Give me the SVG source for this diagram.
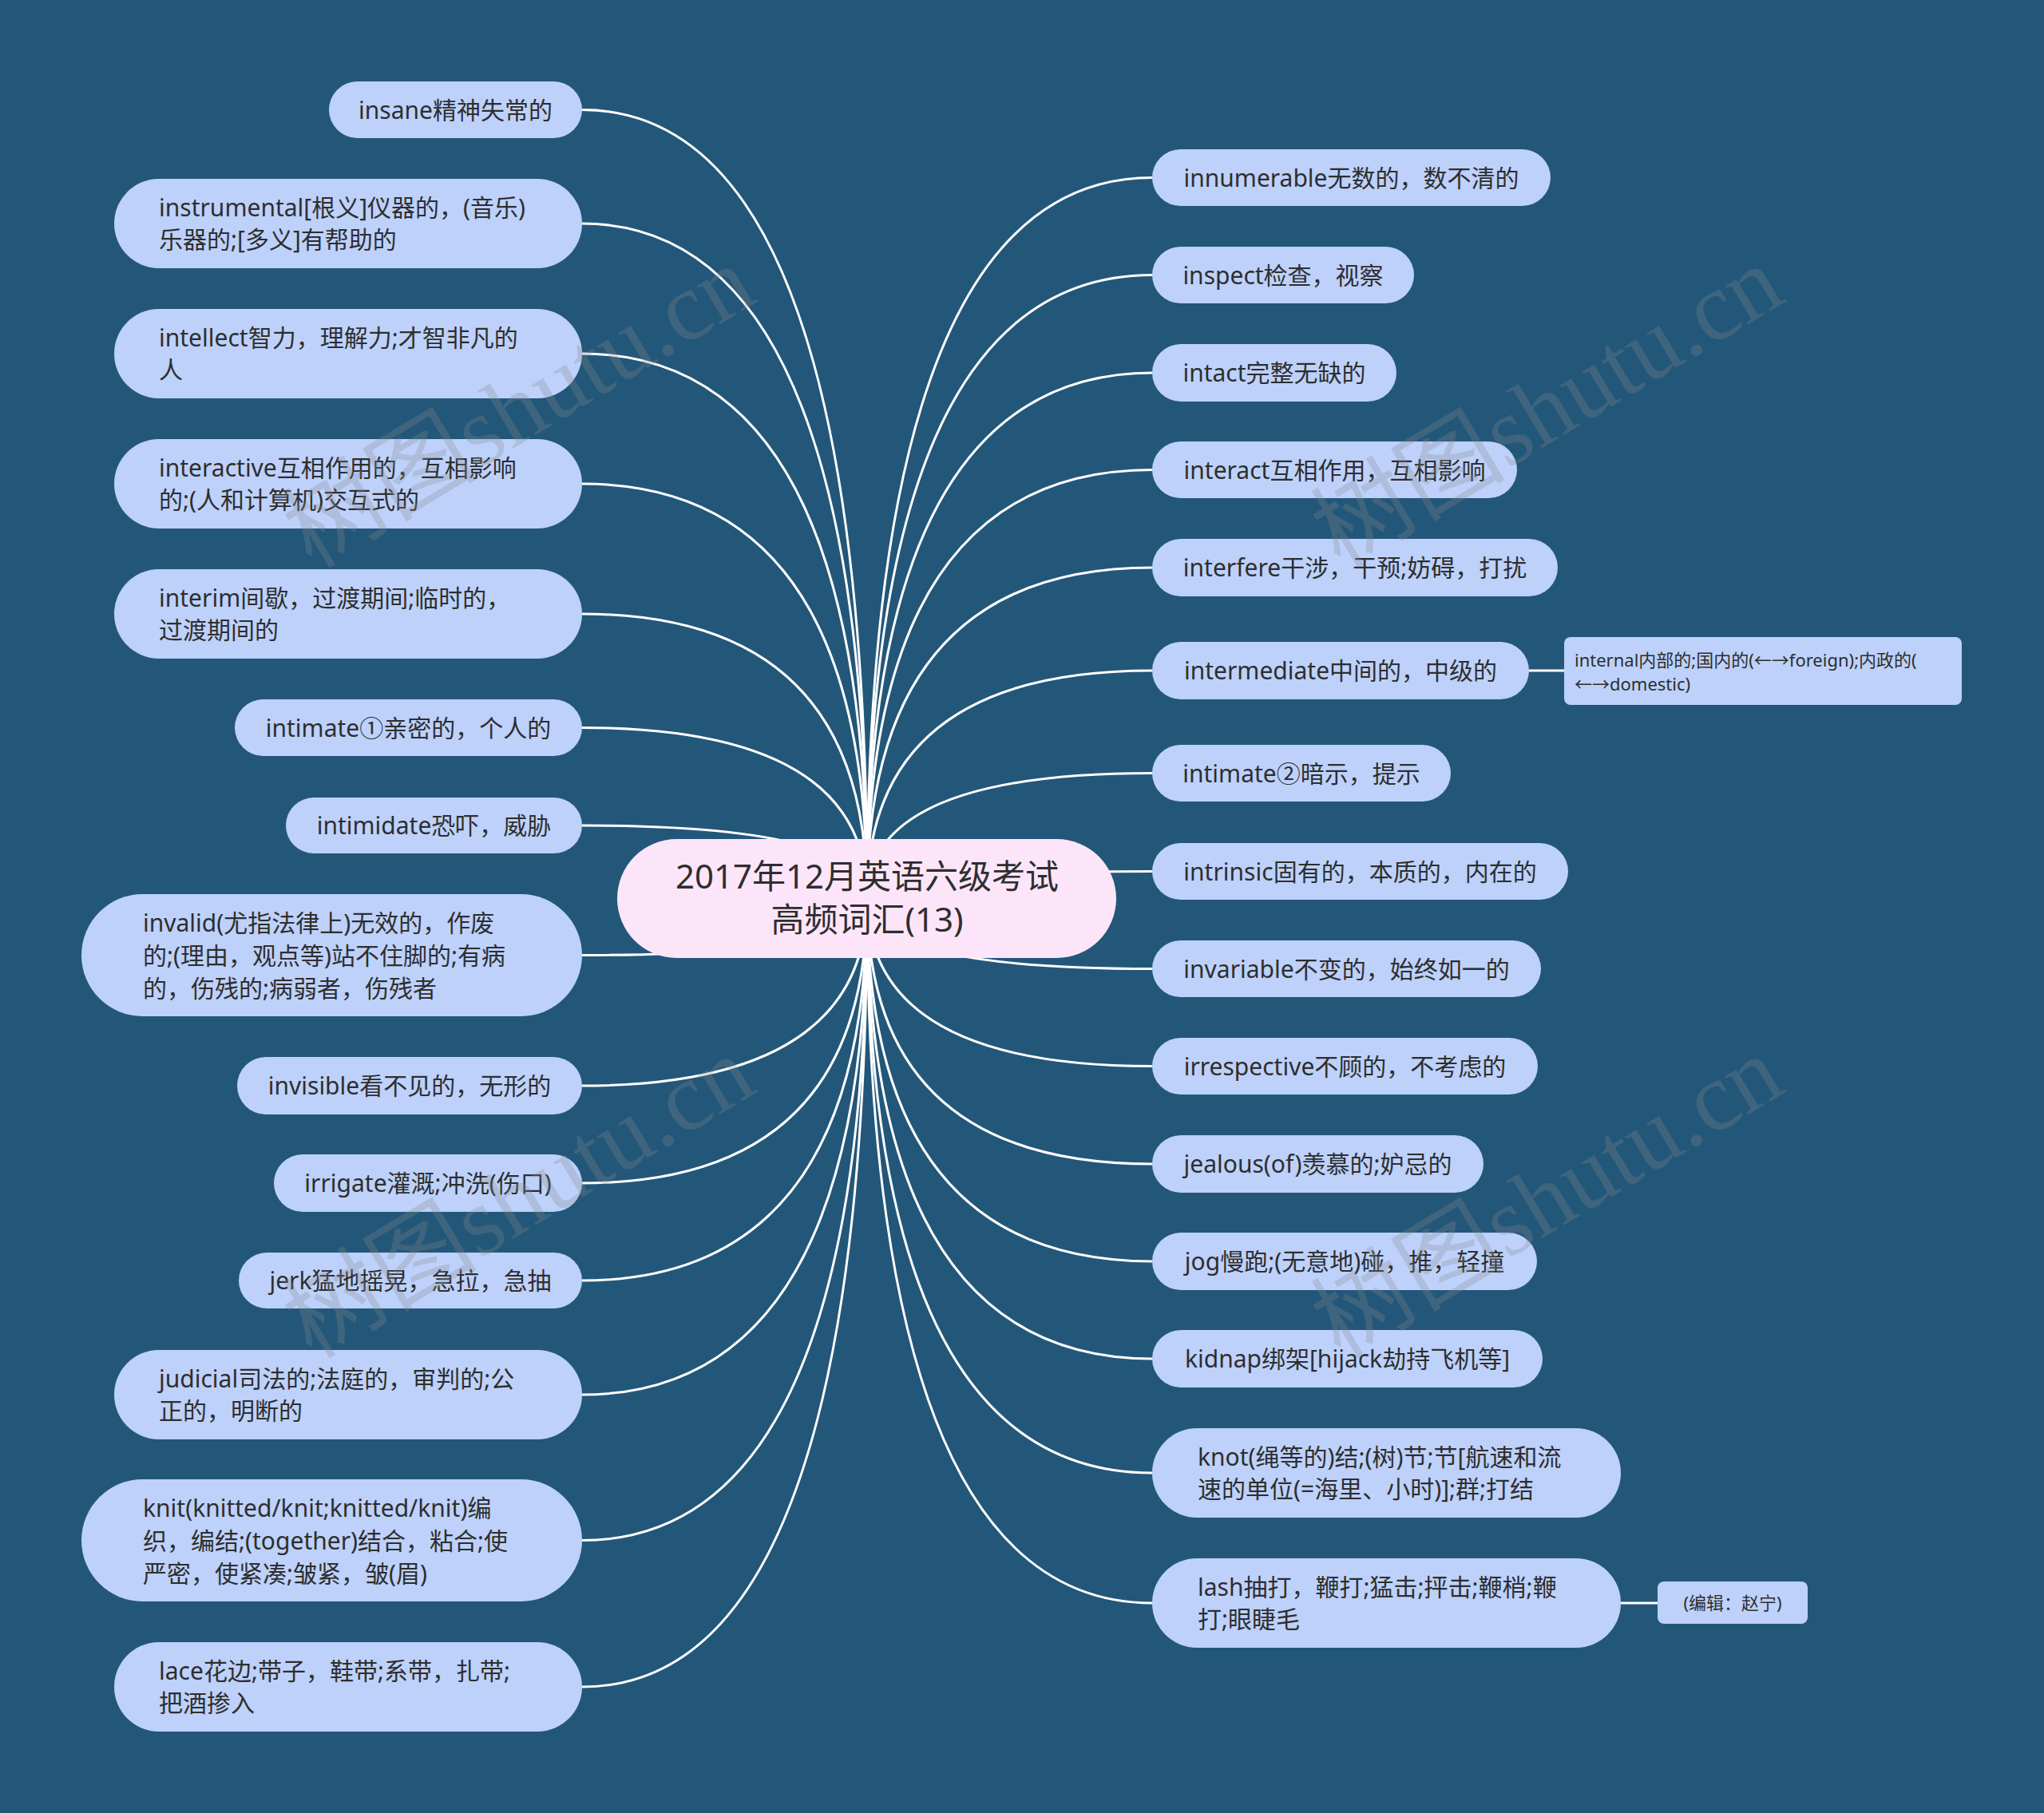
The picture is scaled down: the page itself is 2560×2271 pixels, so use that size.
<svg xmlns="http://www.w3.org/2000/svg" width="2560" height="2271" viewBox="0 0 2560 2271">
<style>
.bg{fill:#235779}
.n rect{fill:#bdd1fb}
.sub rect{fill:#bdd1fb}
.root rect{fill:#fde5f9}
.t{font-family:"Noto Sans","Noto Sans CJK SC",sans-serif;font-size:30px;fill:#2e2e2e}
.m{text-anchor:middle}
.s{font-size:22px}
.rt{font-size:42px}
.edges path,.edges line{fill:none;stroke:#ffffff;stroke-width:3}
.wm{font-family:"Liberation Serif","Noto Sans CJK SC",serif;font-size:122px;fill:#8a8a8a;fill-opacity:0.28;text-anchor:middle}
</style>
<rect class="bg" x="0" y="0" width="2560" height="2271"/>
<g class="edges">
<path d="M1086 1125 Q1086 137.5 729 137.5"/>
<path d="M1086 1125 Q1086 280 729 280"/>
<path d="M1086 1125 Q1086 443 729 443"/>
<path d="M1086 1125 Q1086 606 729 606"/>
<path d="M1086 1125 Q1086 769 729 769"/>
<path d="M1086 1125 Q1086 911.5 729 911.5"/>
<path d="M1086 1125 Q1086 1034 729 1034"/>
<path d="M1086 1125 Q1086 1196.5 729 1196.5"/>
<path d="M1086 1125 Q1086 1360 729 1360"/>
<path d="M1086 1125 Q1086 1482 729 1482"/>
<path d="M1086 1125 Q1086 1604 729 1604"/>
<path d="M1086 1125 Q1086 1747 729 1747"/>
<path d="M1086 1125 Q1086 1929.5 729 1929.5"/>
<path d="M1086 1125 Q1086 2113 729 2113"/>
<path d="M1086 1125 Q1086 222.5 1443 222.5"/>
<path d="M1086 1125 Q1086 344.5 1443 344.5"/>
<path d="M1086 1125 Q1086 467 1443 467"/>
<path d="M1086 1125 Q1086 588.5 1443 588.5"/>
<path d="M1086 1125 Q1086 711 1443 711"/>
<path d="M1086 1125 Q1086 840 1443 840"/>
<path d="M1086 1125 Q1086 968.5 1443 968.5"/>
<path d="M1086 1125 Q1086 1091.5 1443 1091.5"/>
<path d="M1086 1125 Q1086 1213.5 1443 1213.5"/>
<path d="M1086 1125 Q1086 1335.5 1443 1335.5"/>
<path d="M1086 1125 Q1086 1458 1443 1458"/>
<path d="M1086 1125 Q1086 1580 1443 1580"/>
<path d="M1086 1125 Q1086 1702 1443 1702"/>
<path d="M1086 1125 Q1086 1845 1443 1845"/>
<path d="M1086 1125 Q1086 2008 1443 2008"/>
<line x1="1915" y1="840" x2="1959" y2="840"/>
<line x1="2030" y1="2008" x2="2076" y2="2008"/>
</g>
<g id="root" class="root">
<rect x="773" y="1051" width="625" height="149" rx="74.5"/>
<text class="t rt m" x="1086" y="1113">2017年12月英语六级考试</text>
<text class="t rt m" x="1086" y="1167">高频词汇(13)</text>
</g>
<g id="n-insane" class="n"><rect x="412" y="102" width="317" height="71" rx="35.5"/><text class="t m" x="570.5" y="148.5">insane精神失常的</text></g>
<g id="n-instrumental" class="n"><rect x="143" y="224" width="586" height="112" rx="56"/><text class="t"><tspan x="199" y="271">instrumental[根义]仪器的，(音乐)</tspan><tspan x="199" y="311">乐器的;[多义]有帮助的</tspan></text></g>
<g id="n-intellect" class="n"><rect x="143" y="387" width="586" height="112" rx="56"/><text class="t"><tspan x="199" y="434">intellect智力，理解力;才智非凡的</tspan><tspan x="199" y="474">人</tspan></text></g>
<g id="n-interactive" class="n"><rect x="143" y="550" width="586" height="112" rx="56"/><text class="t"><tspan x="199" y="597">interactive互相作用的，互相影响</tspan><tspan x="199" y="637">的;(人和计算机)交互式的</tspan></text></g>
<g id="n-interim" class="n"><rect x="143" y="713" width="586" height="112" rx="56"/><text class="t"><tspan x="199" y="760">interim间歇，过渡期间;临时的，</tspan><tspan x="199" y="800">过渡期间的</tspan></text></g>
<g id="n-intimate1" class="n"><rect x="294" y="876" width="435" height="71" rx="35.5"/><text class="t m" x="511.5" y="922.5">intimate①亲密的，个人的</text></g>
<g id="n-intimidate" class="n"><rect x="358" y="999" width="371" height="70" rx="35"/><text class="t m" x="543.5" y="1045">intimidate恐吓，威胁</text></g>
<g id="n-invalid" class="n"><rect x="102" y="1120" width="627" height="153" rx="76.5"/><text class="t"><tspan x="179" y="1166.5">invalid(尤指法律上)无效的，作废</tspan><tspan x="179" y="1207.5">的;(理由，观点等)站不住脚的;有病</tspan><tspan x="179" y="1248.5">的，伤残的;病弱者，伤残者</tspan></text></g>
<g id="n-invisible" class="n"><rect x="297" y="1324" width="432" height="72" rx="36"/><text class="t m" x="513" y="1371">invisible看不见的，无形的</text></g>
<g id="n-irrigate" class="n"><rect x="343" y="1446" width="386" height="72" rx="36"/><text class="t m" x="536" y="1493">irrigate灌溉;冲洗(伤口)</text></g>
<g id="n-jerk" class="n"><rect x="299" y="1569" width="430" height="70" rx="35"/><text class="t m" x="514" y="1615">jerk猛地摇晃，急拉，急抽</text></g>
<g id="n-judicial" class="n"><rect x="143" y="1691" width="586" height="112" rx="56"/><text class="t"><tspan x="199" y="1738">judicial司法的;法庭的，审判的;公</tspan><tspan x="199" y="1778">正的，明断的</tspan></text></g>
<g id="n-knit" class="n"><rect x="102" y="1853" width="627" height="153" rx="76.5"/><text class="t"><tspan x="179" y="1899.5">knit(knitted/knit;knitted/knit)编</tspan><tspan x="179" y="1940.5">织，编结;(together)结合，粘合;使</tspan><tspan x="179" y="1981.5">严密，使紧凑;皱紧，皱(眉)</tspan></text></g>
<g id="n-lace" class="n"><rect x="143" y="2057" width="586" height="112" rx="56"/><text class="t"><tspan x="199" y="2104">lace花边;带子，鞋带;系带，扎带;</tspan><tspan x="199" y="2144">把酒掺入</tspan></text></g>
<g id="n-innumerable" class="n"><rect x="1443" y="187" width="499" height="71" rx="35.5"/><text class="t m" x="1692.5" y="233.5">innumerable无数的，数不清的</text></g>
<g id="n-inspect" class="n"><rect x="1443" y="309" width="328" height="71" rx="35.5"/><text class="t m" x="1607" y="355.5">inspect检查，视察</text></g>
<g id="n-intact" class="n"><rect x="1443" y="431" width="306" height="72" rx="36"/><text class="t m" x="1596" y="478">intact完整无缺的</text></g>
<g id="n-interact" class="n"><rect x="1443" y="553" width="457" height="71" rx="35.5"/><text class="t m" x="1671.5" y="599.5">interact互相作用，互相影响</text></g>
<g id="n-interfere" class="n"><rect x="1443" y="675" width="508" height="72" rx="36"/><text class="t m" x="1697" y="722">interfere干涉，干预;妨碍，打扰</text></g>
<g id="n-intermediate" class="n"><rect x="1443" y="804" width="472" height="72" rx="36"/><text class="t m" x="1679" y="851">intermediate中间的，中级的</text></g>
<g id="n-internal" class="sub"><rect x="1959" y="798" width="498" height="85" rx="8"/><text class="t s"><tspan x="1972" y="835">internal内部的;国内的(←→foreign);内政的(</tspan><tspan x="1972" y="865">←→domestic)</tspan></text></g>
<g id="n-intimate2" class="n"><rect x="1443" y="933" width="374" height="71" rx="35.5"/><text class="t m" x="1630" y="979.5">intimate②暗示，提示</text></g>
<g id="n-intrinsic" class="n"><rect x="1443" y="1056" width="521" height="71" rx="35.5"/><text class="t m" x="1703.5" y="1102.5">intrinsic固有的，本质的，内在的</text></g>
<g id="n-invariable" class="n"><rect x="1443" y="1178" width="487" height="71" rx="35.5"/><text class="t m" x="1686.5" y="1224.5">invariable不变的，始终如一的</text></g>
<g id="n-irrespective" class="n"><rect x="1443" y="1300" width="483" height="71" rx="35.5"/><text class="t m" x="1684.5" y="1346.5">irrespective不顾的，不考虑的</text></g>
<g id="n-jealous" class="n"><rect x="1443" y="1422" width="415" height="72" rx="36"/><text class="t m" x="1650.5" y="1469">jealous(of)羡慕的;妒忌的</text></g>
<g id="n-jog" class="n"><rect x="1443" y="1544" width="482" height="72" rx="36"/><text class="t m" x="1684" y="1591">jog慢跑;(无意地)碰，推，轻撞</text></g>
<g id="n-kidnap" class="n"><rect x="1443" y="1666" width="489" height="72" rx="36"/><text class="t m" x="1687.5" y="1713">kidnap绑架[hijack劫持飞机等]</text></g>
<g id="n-knot" class="n"><rect x="1443" y="1789" width="587" height="112" rx="56"/><text class="t"><tspan x="1500" y="1836">knot(绳等的)结;(树)节;节[航速和流</tspan><tspan x="1500" y="1876">速的单位(=海里、小时)];群;打结</tspan></text></g>
<g id="n-lash" class="n"><rect x="1443" y="1952" width="587" height="112" rx="56"/><text class="t"><tspan x="1500" y="1999">lash抽打，鞭打;猛击;抨击;鞭梢;鞭</tspan><tspan x="1500" y="2039">打;眼睫毛</tspan></text></g>
<g id="n-editor" class="sub"><rect x="2076" y="1981" width="188" height="53" rx="8"/><text class="t s m" x="2170" y="2016">(编辑：赵宁)</text></g>
<g id="watermarks">
<text class="wm" x="652" y="550" transform="rotate(-31 652 513)">树图shutu.cn</text>
<text class="wm" x="1940" y="550" transform="rotate(-31 1940 513)">树图shutu.cn</text>
<text class="wm" x="652" y="1540" transform="rotate(-31 652 1503)">树图shutu.cn</text>
<text class="wm" x="1940" y="1540" transform="rotate(-31 1940 1503)">树图shutu.cn</text>
</g>
</svg>
